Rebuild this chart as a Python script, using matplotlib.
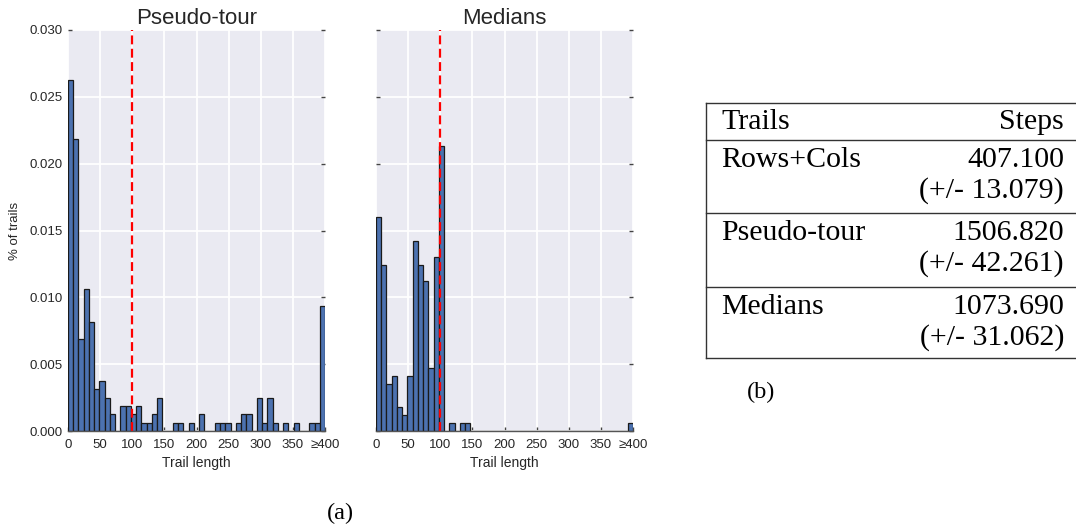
import numpy as np
import matplotlib
matplotlib.use("Agg")
import matplotlib.pyplot as plt
from matplotlib.lines import Line2D

# ---------------- data ----------------
x_min, x_max, n_bins = 0, 400, 49
pseudo_counts = [42, 35, 11, 17, 13, 5, 6, 4, 2, 0,
                 3, 3, 2, 3, 1, 1, 2, 4, 0, 0,
                 1, 1, 0, 1, 0, 2, 0, 0, 1, 1,
                 1, 0, 1, 2, 2, 0, 4, 1, 4, 1,
                 0, 1, 0, 1, 0, 0, 1, 1, 15]
medians_counts = [27, 21, 6, 7, 3, 2, 7, 24, 21, 19,
                  8, 22, 36, 0, 1, 0, 1, 1, 0, 0,
                  0, 0, 0, 0, 0, 0, 0, 0, 0, 0,
                  0, 0, 0, 0, 0, 0, 0, 0, 0, 0,
                  0, 0, 0, 0, 0, 0, 0, 0, 1]
cutoff = 100
panel_titles = ["Pseudo-tour", "Medians"]
xticks = [0, 50, 100, 150, 200, 250, 300, 350, 400]
xtick_labels = ["0", "50", "100", "150", "200", "250", "300", "350", "\u2265400"]
yticks = [0.000, 0.005, 0.010, 0.015, 0.020, 0.025, 0.030]

table_header = ["Trails", "Steps"]
table_methods = ["Rows+Cols", "Pseudo-tour", "Medians"]
table_means = ["407.100", "1506.820", "1073.690"]
table_errs = ["(+/- 13.079)", "(+/- 42.261)", "(+/- 31.062)"]

# ---------------- figure ----------------
W, H = 1076, 529
plt.rcParams['font.family'] = ['Liberation Sans', 'DejaVu Sans']
fig = plt.figure(figsize=(W / 100, H / 100), dpi=100)

def fx(px):
    return px / W

def fy(py):
    return 1 - py / H

edges = np.linspace(x_min, x_max, n_bins + 1)
centers = (edges[:-1] + edges[1:]) / 2

ax_top, ax_bot = 30, 431
axes_px = [(68, 325), (376, 633)]
tick_fs = 9.5
for i, (counts, title) in enumerate(zip([pseudo_counts, medians_counts], panel_titles)):
    l, r = axes_px[i]
    ax = fig.add_axes([fx(l), fy(ax_bot), fx(r - l), (ax_bot - ax_top) / H])
    ax.set_facecolor('#EAEAF2')
    ax.set_axisbelow(True)
    ax.grid(True, color='white', linewidth=1.3)
    ax.hist(centers, bins=edges, weights=counts, density=True,
            color='#4C72B0', edgecolor='#1a1a1a', linewidth=0.9)
    ax.axvline(cutoff, color='red', linestyle='--', linewidth=1.6,
               dashes=(4.0, 2.0))
    ax.set_xlim(x_min, x_max)
    ax.set_ylim(0, 0.030)
    ax.set_xticks(xticks)
    ax.set_xticklabels(xtick_labels, fontsize=tick_fs, color='#262626')
    ax.set_yticks(yticks)
    if i == 0:
        ax.set_yticklabels([f"{v:.3f}" for v in yticks], fontsize=tick_fs, color='#262626')
        ax.set_ylabel("% of trails", fontsize=9.5, color='#262626', labelpad=6)
    else:
        ax.set_yticklabels([])
    ax.tick_params(axis='y', direction='in', length=3, width=1, color='#444444',
                   left=True, right=True, pad=4)
    ax.tick_params(axis='x', direction='in', length=3, width=1, color='#444444',
                   bottom=True, top=False, pad=6)
    ax.set_xlabel("Trail length", fontsize=10, color='#262626', labelpad=3)
    ax.set_title(title, fontsize=16, color='#262626', pad=4)
    for s in ['top', 'left', 'right']:
        ax.spines[s].set_visible(False)
    ax.spines['bottom'].set_color('#555555')
    ax.spines['bottom'].set_linewidth(1.0)

# ---------------- table ----------------
serif = ['Liberation Serif', 'DejaVu Serif']
tab_l, tab_r = 706, 1076
lc = '#333333'
for yy in [103, 140, 213, 287, 358]:
    fig.add_artist(Line2D([fx(tab_l), fx(tab_r)], [fy(yy), fy(yy)],
                          transform=fig.transFigure, color=lc, linewidth=1.0))
fig.add_artist(Line2D([fx(tab_l), fx(tab_l)], [fy(103), fy(358)],
                      transform=fig.transFigure, color=lc, linewidth=1.0))

tfs = 21.5
text_l, text_r = 721, 1064
fig.text(fx(text_l), fy(129), table_header[0], family=serif, fontsize=tfs,
         ha='left', va='baseline', color='black')
fig.text(fx(text_r), fy(129), table_header[1], family=serif, fontsize=tfs,
         ha='right', va='baseline', color='black')
group_tops = [140, 213, 287]
for top, m, mean, err in zip(group_tops, table_methods, table_means, table_errs):
    fig.text(fx(text_l), fy(top + 27), m, family=serif, fontsize=tfs,
             ha='left', va='baseline', color='black')
    fig.text(fx(text_r), fy(top + 27), mean, family=serif, fontsize=tfs,
             ha='right', va='baseline', color='black')
    fig.text(fx(text_r), fy(top + 58), err, family=serif, fontsize=tfs,
             ha='right', va='baseline', color='black')

# ---------------- captions ----------------
fig.text(fx(340), fy(513), "(a)", family=serif, fontsize=17.5, ha='center', va='center')
fig.text(fx(761), fy(392), "(b)", family=serif, fontsize=17.5, ha='center', va='center')

fig.savefig("out.png", dpi=100)
